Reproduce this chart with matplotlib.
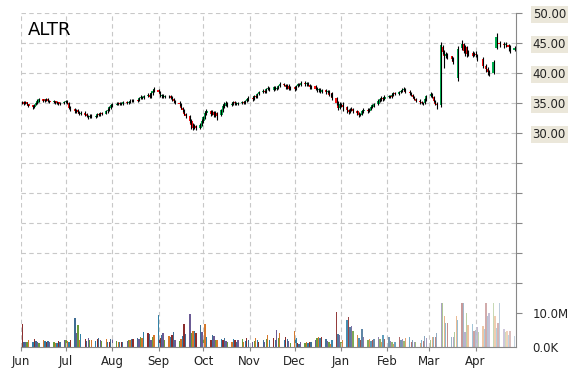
import numpy as np
import pandas as pd
import matplotlib
matplotlib.use("Agg")
import matplotlib.pyplot as plt
import matplotlib.dates as mdates

# daily candles, Jun 2014 .. Apr 2015 (None = no candle)
dates = pd.bdate_range("2014-06-02", "2015-04-27")

opens = [
    35.2, 35.1, 34.9, 35.1, 34.8, 34.6, 34.3, 34.7, 35.0, 35.3, 35.6, 35.3, 35.5, 35.7, 35.4, 35.1, 35.3, 35.0, 35.1, 34.8, 35.0,
    35.2, 35.3, 35.0, 34.3, 34.0, 33.6, 33.8, 33.5, 33.2, 33.4, 33.1, 32.8, 32.6, 32.9, 32.7, 32.8, 33.2, 33.0, 33.3, 33.2, 33.6, 33.9, 34.2,
    34.6, 34.7, 34.9, 35.0, 34.8, 34.9, 35.1, 35.0, 35.2, 35.4, 35.3, 35.5, 35.5, 35.8, 36.0, 35.9, 36.2, 36.4, 36.1, 36.6, 37.0,
    37.2, 36.8, 36.1, 36.3, 36.0, 36.2, 36.1, 35.9, 35.6, 35.3, 35.0, 34.8, 34.2, 33.8, 33.2, 32.8, 32.0, 31.3, 30.9, 31.2, 30.9, 31.4,
    32.0, 32.7, 33.4, 33.6, 33.2, 33.5, 33.0, 33.3, 33.0, 33.8, 34.5, 34.8, 35.0, 34.7, 34.9, 35.1, 35.0, 34.8, 35.0, 35.2, 35.0, 35.3, 35.6,
    35.9, 35.7, 36.2, 36.0, 36.5, 36.8, 37.0, 36.9, 37.3, 37.5, 37.2, 37.6, 37.4, 37.5, 37.8, 38.2, 38.0, 37.6, 37.9, 37.4,
    37.6, 37.3, 37.8, 38.2, 38.0, 38.4, 38.1, 38.3, 38.0, 37.6, 37.8, 37.4, 37.1, 37.3, 36.9, 37.2, 36.8, 37.0, 36.4, 36.6, 35.8, 35.0, 34.2,
    34.8, 34.7, 34.3, 33.8, 33.5, 33.9, 34.0, 33.6, 33.3, 33.0, 33.2, 33.6, 33.9, 33.7, 34.0, 34.3, 34.6, 34.9, 35.4, 35.6, 35.9, 35.7,
    36.0, 36.2, 36.0, 36.4, 36.6, 36.5, 36.8, 37.0, 37.2, 37.4, 36.9, 36.6, 36.3, 36.0, 35.7, 35.4, 35.1, 35.0, 35.0, 35.6,
    36.2, 36.5, 36.0, 35.3, 34.9, 34.6, 44.4, 43.5, 42.9, 43.2, 42.8, 42.4, None, None, 39.2, 44.1, 44.8, 43.6, 44.3, 43.2, 43.4, 43.0,
    43.2, 43.0, None, 42.4, None, 41.2, 40.6, 40.2, 40.0, None, 44.2, None, 45.0, 44.8, 44.6, None, 44.6, 44.3, 43.8,
]
closes = [
    35.0, 34.9, 35.1, 34.8, 34.5, 34.3, 34.6, 35.0, 35.4, 35.6, 35.3, 35.5, 35.7, 35.4, 35.2, 35.3, 35.0, 35.1, 34.8, 35.0, 35.2,
    35.3, 35.0, 34.2, 34.0, 33.7, 33.8, 33.5, 33.2, 33.4, 33.0, 32.8, 32.6, 32.9, 32.7, 32.8, 33.1, 33.0, 33.3, 33.2, 33.6, 33.9, 34.3, 34.6,
    34.8, 34.9, 35.0, 34.8, 34.9, 35.1, 35.0, 35.2, 35.4, 35.3, 35.5, 35.4, 35.8, 36.0, 35.9, 36.2, 36.4, 36.0, 36.6, 37.0, 37.3,
    36.8, 36.2, 36.3, 36.0, 36.2, 36.1, 35.9, 35.6, 35.3, 35.0, 34.8, 34.2, 33.8, 33.2, 32.8, 32.0, 31.3, 30.9, 31.2, 30.8, 31.4, 32.0,
    32.6, 33.4, 33.6, 33.2, 33.5, 33.0, 33.3, 32.9, 33.8, 34.5, 34.8, 35.0, 34.7, 34.9, 35.1, 35.0, 34.8, 35.0, 35.2, 35.0, 35.3, 35.6, 35.9,
    35.7, 36.2, 36.0, 36.5, 36.8, 37.0, 36.9, 37.3, 37.5, 37.2, 37.6, 37.4, 37.5, 37.8, 38.2, 38.0, 37.6, 37.9, 37.4, 37.6,
    37.3, 37.8, 38.2, 38.0, 38.4, 38.1, 38.3, 38.0, 37.6, 37.8, 37.4, 37.1, 37.3, 36.9, 37.2, 36.8, 37.0, 36.4, 36.3, 35.8, 35.0, 34.2, 34.8,
    34.6, 34.3, 33.8, 33.5, 33.9, 34.0, 33.6, 33.3, 33.0, 33.2, 33.6, 33.9, 33.7, 34.0, 34.3, 34.6, 34.8, 35.4, 35.6, 35.9, 35.7, 36.0,
    36.2, 36.0, 36.4, 36.6, 36.5, 36.8, 37.0, 37.2, 37.4, 36.9, 36.6, 36.3, 36.0, 35.7, 35.4, 35.1, 35.0, 34.9, 35.6, 36.1,
    36.5, 36.0, 35.3, 34.8, 34.6, 44.7, 43.5, 42.9, 43.2, 42.6, 42.4, 41.9, None, None, 44.0, 44.8, 43.6, 44.3, 43.1, 43.4, 42.9, 43.2,
    43.0, 42.4, None, 41.2, None, 40.6, 40.2, 39.9, 41.8, None, 46.0, None, 44.8, 44.6, 44.9, None, 44.3, 43.8, 44.1,
]
highs = [
    35.4, 35.3, 35.3, 35.2, 34.9, 34.7, 34.8, 35.2, 35.6, 35.9, 35.7, 35.7, 35.9, 35.8, 35.5, 35.5, 35.4, 35.3, 35.2, 35.2, 35.4,
    35.5, 35.5, 35.1, 34.5, 34.2, 34.0, 34.0, 33.7, 33.6, 33.6, 33.3, 33.0, 33.1, 33.1, 33.0, 33.3, 33.4, 33.5, 33.5, 33.8, 34.1, 34.5, 34.8,
    35.0, 35.1, 35.2, 35.2, 35.1, 35.3, 35.3, 35.4, 35.6, 35.6, 35.7, 35.7, 36.0, 36.3, 36.2, 36.4, 36.7, 36.6, 36.8, 37.3, 37.7,
    37.4, 37.0, 36.5, 36.5, 36.4, 36.4, 36.3, 36.1, 35.8, 35.5, 35.3, 35.0, 34.4, 34.0, 33.4, 33.0, 32.3, 31.6, 31.5, 31.4, 31.7, 32.3,
    32.9, 33.7, 34.0, 33.8, 33.8, 33.7, 33.6, 33.5, 34.0, 34.8, 35.1, 35.3, 35.2, 35.2, 35.4, 35.3, 35.2, 35.2, 35.4, 35.4, 35.5, 35.8, 36.1,
    36.1, 36.4, 36.4, 36.7, 37.0, 37.3, 37.2, 37.5, 37.8, 37.7, 37.8, 37.8, 37.7, 38.0, 38.5, 38.4, 38.2, 38.1, 38.1, 37.8,
    37.8, 38.0, 38.4, 38.4, 38.7, 38.6, 38.5, 38.5, 38.2, 38.0, 38.0, 37.6, 37.5, 37.5, 37.4, 37.4, 37.2, 37.2, 36.6, 36.8, 36.0, 35.3, 35.1,
    35.0, 35.1, 34.5, 34.0, 34.2, 34.3, 34.2, 33.8, 33.5, 33.4, 33.8, 34.1, 34.1, 34.2, 34.5, 34.8, 35.0, 35.6, 35.8, 36.1, 36.0, 36.3,
    36.4, 36.4, 36.6, 36.8, 36.8, 37.0, 37.2, 37.5, 37.7, 37.5, 37.1, 36.8, 36.5, 36.2, 35.9, 35.6, 35.3, 35.2, 35.8, 36.4,
    36.9, 36.7, 36.2, 35.5, 35.1, 45.2, 44.6, 43.8, 43.5, 43.4, 42.8, 42.6, None, None, 44.5, 45.5, 45.0, 44.6, 44.5, 43.8, 43.6, 43.5,
    43.6, 43.2, None, 42.7, None, 41.5, 41.0, 40.5, 42.2, None, 46.6, None, 45.3, 45.1, 45.2, None, 44.8, 44.6, 44.5,
]
lows = [
    34.8, 34.7, 34.8, 34.6, 34.3, 34.0, 34.2, 34.6, 34.9, 35.1, 35.1, 35.2, 35.4, 35.2, 35.0, 35.0, 34.8, 34.9, 34.6, 34.7, 34.9,
    35.0, 34.9, 34.0, 33.7, 33.4, 33.4, 33.3, 33.0, 33.0, 32.8, 32.6, 32.4, 32.5, 32.5, 32.5, 32.6, 32.8, 32.9, 33.0, 33.1, 33.4, 33.7, 34.0,
    34.4, 34.6, 34.7, 34.6, 34.6, 34.7, 34.8, 34.9, 35.0, 35.1, 35.1, 35.2, 35.3, 35.6, 35.7, 35.7, 36.0, 35.8, 35.9, 36.4, 36.8,
    36.6, 36.0, 35.9, 35.8, 35.8, 35.8, 35.6, 35.4, 35.0, 34.8, 34.5, 34.0, 33.5, 33.0, 32.5, 31.7, 30.6, 30.5, 30.7, 30.5, 30.7, 31.2,
    31.7, 32.3, 33.0, 32.8, 33.0, 32.6, 32.6, 32.2, 32.8, 33.5, 34.2, 34.5, 34.4, 34.5, 34.7, 34.7, 34.6, 34.6, 34.8, 34.8, 34.8, 35.1, 35.4,
    35.4, 35.5, 35.8, 35.8, 36.3, 36.6, 36.6, 36.7, 37.1, 37.0, 37.0, 37.2, 37.2, 37.3, 37.6, 37.8, 37.3, 37.4, 37.2, 37.2,
    37.0, 37.1, 37.6, 37.8, 37.8, 37.9, 37.9, 37.8, 37.3, 37.4, 37.1, 36.8, 36.9, 36.6, 36.7, 36.5, 36.6, 36.1, 36.0, 35.5, 34.6, 33.9, 34.0,
    34.3, 33.6, 33.4, 33.2, 33.3, 33.6, 33.4, 33.0, 32.7, 32.8, 33.0, 33.4, 33.4, 33.5, 33.8, 34.1, 34.4, 34.7, 35.2, 35.4, 35.4, 35.5,
    35.8, 35.8, 35.9, 36.2, 36.3, 36.3, 36.6, 36.8, 37.0, 36.7, 36.4, 36.1, 35.8, 35.5, 35.2, 34.9, 34.8, 34.6, 34.8, 35.4,
    36.0, 35.8, 35.2, 34.6, 34.0, 34.4, 43.2, 40.8, 42.5, 42.3, 42.0, 41.5, None, None, 38.7, 43.8, 43.3, 42.8, 42.7, 42.9, 42.6, 42.8,
    42.7, 42.0, None, 40.8, None, 40.2, 39.6, 39.5, 39.8, None, 44.0, None, 44.4, 44.2, 44.3, None, 43.6, 43.4, 43.7,
]
# volume in millions
volumes = [
    6.8, 1.4, 1.6, 1.5, 2.2, 1.6, 2.3, 1.8, 1.5, 1.3, 2.0, 1.8, 1.6, 1.7, 1.5, 1.4, 1.2, 1.3, 1.8, 1.6, 2.0,
    2.2, 1.8, 1.6, 2.0, 8.5, 4.2, 6.5, 2.0, 3.8, 2.5, 1.8, 2.6, 2.2, 2.0, 1.9, 2.4, 2.6, 2.1, 1.8, 2.3, 1.6, 1.4, 2.3,
    2.5, 1.9, 1.6, 1.5, 1.6, 1.4, 1.8, 2.0, 2.2, 2.5, 2.4, 2.6, 2.3, 3.0, 2.6, 4.5, 4.2, 3.8, 2.2, 3.0, 3.5,
    9.3, 2.6, 3.5, 4.0, 2.2, 3.2, 2.8, 3.6, 4.5, 2.0, 1.8, 2.5, 3.2, 6.8, 3.8, 9.8, 4.2, 4.6, 4.8, 4.0, 6.5, 4.5,
    2.8, 6.8, 3.0, 2.2, 3.6, 3.2, 2.2, 2.0, 2.4, 2.2, 2.6, 1.8, 1.6, 1.5, 2.3, 2.0, 1.6, 2.1, 2.4, 1.5, 1.8, 2.6, 2.2,
    1.4, 1.7, 2.6, 2.0, 1.5, 2.2, 1.6, 2.4, 3.5, 2.0, 2.6, 2.2, 5.0, 2.6, 4.2, 2.0, 2.8, 2.4, 1.8, 1.2,
    4.8, 2.6, 1.2, 1.0, 1.4, 1.2, 1.5, 1.3, 1.6, 1.4, 2.0, 2.6, 2.8, 2.6, 3.0, 2.4, 1.8, 1.6, 0.8, 2.0, 10.2, 3.8, 3.6,
    1.5, 2.0, 7.8, 8.8, 5.8, 6.2, 4.8, 3.5, 2.6, 2.2, 5.3, 2.8, 2.2, 2.4, 1.8, 2.0, 2.5, 3.0, 2.4, 1.6, 3.4, 2.5,
    2.8, 1.8, 1.6, 1.0, 1.5, 2.8, 2.2, 2.4, 1.8, 2.6, 2.8, 1.4, 2.2, 1.6, 1.5, 1.2, 2.0, 1.8, 3.2, 2.6,
    2.2, 3.0, 2.8, 3.0, 4.0, 13.0, 13.0, 9.0, 7.0, 7.0, 3.0, 2.8, 4.5, 9.0, 7.8, 13.0, 13.0, 4.5, 10.0, 6.5, 6.8, 4.8,
    5.0, 6.0, 4.5, 6.3, 5.2, 13.0, 9.0, 10.0, 13.0, 9.0, 5.5, 7.0, 13.0, 5.2, 4.3, 4.6, 3.5, 4.8, 3.2,
]
ticker = "ALTR"
price_labels = [30, 35, 40, 45, 50]

vol_colors = ["#8b2c2c", "#3f6d94", "#6b5b95", "#6a9a3a", "#d6772a", "#2f7fa6"]
grid_kw = dict(color="#c8c8c8", linestyle=(0, (4, 3)), linewidth=0.8)

o = np.array(opens, dtype=float)
c = np.array(closes, dtype=float)
h = np.array(highs, dtype=float)
l = np.array(lows, dtype=float)
v = np.array(volumes, dtype=float)
x = mdates.date2num(dates.to_pydatetime())
ok = ~np.isnan(c)

fig = plt.figure(figsize=(5.7, 3.7), dpi=100)
ax = fig.add_axes([21 / 570, 23 / 370, 495 / 570, 334 / 370])
ax.set_xlim(mdates.date2num(pd.Timestamp("2014-06-01")), mdates.date2num(pd.Timestamp("2015-04-28")))
ax.set_ylim(50 - 334 / 6, 50)

# grid
for yv in range(5, 51, 5):
    ax.axhline(yv, zorder=0, **grid_kw)
ax.xaxis.set_major_locator(mdates.MonthLocator())
ax.xaxis.set_major_formatter(mdates.DateFormatter("%b"))
ax.grid(axis="x", zorder=0, **grid_kw)

# volume on a twin axis, fading out toward the right
axv = ax.twinx()
axv.set_ylim(0, 334 / 3.4)
n = len(v)
fade_start = np.searchsorted(x, mdates.date2num(pd.Timestamp("2014-12-15")))
for i in range(n):
    a = 1.0 if i < fade_start else 1.0 - 0.7 * (i - fade_start) / (n - 1 - fade_start)
    axv.bar(x[i], v[i], width=0.9, color=vol_colors[i % len(vol_colors)], alpha=a, linewidth=0)
axv.set_yticks([0, 10])
axv.set_yticklabels(["0.0K", "10.0M"])
axv.tick_params(axis="y", length=0, pad=12, labelsize=8.5, colors="#222222")

# candles
up = ok & (c >= o)
dn = ok & (c < o)
axv.set_zorder(1)
ax.set_zorder(2)
ax.patch.set_visible(False)
ax.vlines(x[ok], l[ok], h[ok], color="black", linewidth=0.8)
ax.bar(x[up], np.maximum(c[up] - o[up], 0.08), bottom=o[up], width=1.5, color="#00b050", linewidth=0)
ax.bar(x[dn], o[dn] - c[dn], bottom=c[dn], width=1.5, color="#ff1010", linewidth=0)

# axes styling
ax.yaxis.tick_right()
ax.set_yticks(range(0, 51, 5))
ax.set_yticklabels([f"{t:.2f}" if t in price_labels else "" for t in range(0, 51, 5)])
ax.tick_params(axis="y", length=4, width=0.8, color="#888888", pad=8, labelsize=8.5, labelcolor="#222222")
for lab in ax.get_yticklabels():
    lab.set_bbox(dict(facecolor="#ebe7da", edgecolor="none", pad=1.5))
ax.tick_params(axis="x", length=3, width=0.8, color="#888888", pad=3, labelsize=8.5, labelcolor="#222222")
for sp in ["left", "top"]:
    ax.spines[sp].set_visible(False)
    axv.spines[sp].set_visible(False)
for sp in ["right", "bottom"]:
    ax.spines[sp].set_color("#888888")
    axv.spines[sp].set_visible(False)

ax.text(0.014, 0.975, ticker, transform=ax.transAxes, ha="left", va="top", fontsize=13, color="black")

fig.savefig("out.png", dpi=100)
